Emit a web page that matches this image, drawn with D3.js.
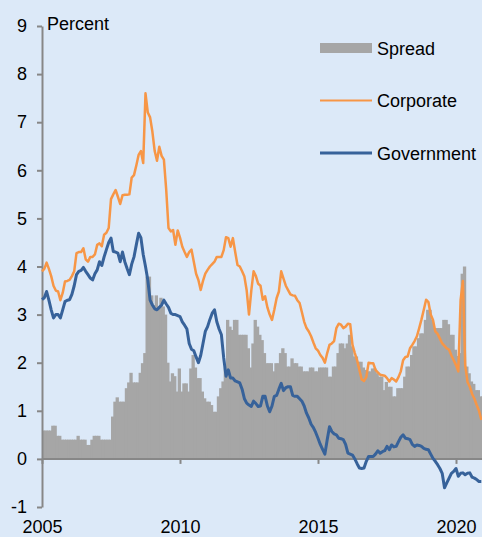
<!DOCTYPE html>
<html>
<head>
<meta charset="utf-8">
<script src="https://cdn.jsdelivr.net/npm/d3@7"></script>
<style>
  body { margin: 0; background: #dce9f8; }
  svg { display: block; font-family: "Liberation Sans", Arial, sans-serif; }
</style>
</head>
<body>
<div id="chart"></div>
<script>
"use strict";

// monthly values, Jan 2005 .. Dec 2020
var START_YEAR = 2005;

var corporate = [
  3.9, 3.95, 4.08, 3.95, 3.8, 3.6, 3.5, 3.48, 3.3, 3.45, 3.69, 3.7,
  3.72, 3.8, 3.9, 4.28, 4.3, 4.3, 4.38, 4.15, 4.1, 4.2, 4.2, 4.25,
  4.45, 4.48, 4.42, 4.66, 4.7, 4.8, 5.4, 5.5, 5.59, 5.45, 5.3, 5.48,
  5.49, 5.49, 5.5, 5.85, 5.9, 6.1, 6.32, 6.4, 6.15, 7.6, 7.2, 7.1,
  6.8, 6.4, 6.2, 6.49, 6.3, 6.22, 5.6, 4.8, 4.73, 4.76, 4.45, 4.75,
  4.6, 4.41, 4.3, 4.2, 4.3, 4.35, 4.1, 3.85, 3.72, 3.51, 3.7, 3.85,
  3.93, 4.0, 4.05, 4.1, 4.2, 4.2, 4.2, 4.34, 4.61, 4.59, 4.41, 4.59,
  4.3, 4.03, 4.0, 3.9, 3.79, 3.5, 3.0, 3.5, 3.9, 3.8, 3.64, 3.6,
  3.31, 3.38, 3.15, 3.0, 2.89, 3.1, 3.34, 3.48, 3.9, 3.75, 3.6, 3.51,
  3.42, 3.4, 3.39, 3.3, 3.24, 3.05, 2.85, 2.72, 2.65, 2.55, 2.42, 2.3,
  2.25, 2.16, 2.1, 2.0, 2.2, 2.37, 2.4, 2.45, 2.72, 2.81, 2.79, 2.72,
  2.75, 2.81, 2.8, 2.37, 2.2, 2.05, 1.85, 1.65, 1.62, 1.7, 2.0, 1.99,
  1.99, 1.85, 1.8, 1.75, 1.74, 1.73, 1.68, 1.61, 1.68, 1.65, 1.61, 1.7,
  1.82, 2.05, 2.12, 2.13, 2.3, 2.37, 2.45, 2.55, 2.72, 2.9, 3.1, 3.31,
  3.26, 3.0, 2.89, 2.65, 2.6, 2.5, 2.4, 2.35, 2.3, 2.27, 2.15, 2.05,
  1.95, 1.82, 3.3, 3.7, 1.95, 1.6, 1.5, 1.35, 1.25, 1.12, 1.0, 0.81
];

var government = [
  3.31, 3.35, 3.48, 3.3, 3.1, 2.93, 3.0, 3.0, 2.93, 3.1, 3.27, 3.3,
  3.31, 3.42, 3.6, 3.83, 3.9, 3.92, 3.98, 3.9, 3.83, 3.76, 3.72, 3.85,
  3.93, 4.1, 4.02, 4.2, 4.35, 4.5, 4.59, 4.31, 4.3, 4.28, 4.1, 4.3,
  4.1, 3.96, 3.83, 4.05, 4.2, 4.45, 4.69, 4.6, 4.25, 4.0, 3.72, 3.3,
  3.2, 3.12, 3.1, 3.15, 3.2, 3.3, 3.22, 3.15, 3.03, 3.0, 3.0, 2.98,
  2.96, 2.85, 2.78, 2.7, 2.4, 2.28, 2.25, 2.12, 2.0, 2.15, 2.4, 2.65,
  2.75, 2.9, 3.03, 3.1, 2.85, 2.7, 2.58, 2.1, 1.72, 1.85, 1.68, 1.68,
  1.62, 1.6, 1.58, 1.45, 1.25, 1.16, 1.12, 1.09, 1.2, 1.15, 1.09, 1.1,
  1.3, 1.3, 1.1, 0.98, 1.1, 1.3, 1.32, 1.45, 1.57, 1.42, 1.48, 1.5,
  1.5, 1.32, 1.3, 1.3, 1.25, 1.2, 1.1, 0.95, 0.85, 0.72, 0.65, 0.55,
  0.43, 0.3, 0.2, 0.1, 0.4, 0.67, 0.57, 0.52, 0.5, 0.43, 0.42, 0.4,
  0.3, 0.12, 0.1, 0.08, 0.0, -0.1, -0.19, -0.2, -0.19, -0.05, 0.05, 0.05,
  0.05, 0.1, 0.17, 0.12, 0.15, 0.17, 0.26, 0.19, 0.29, 0.25, 0.26, 0.36,
  0.45, 0.5, 0.43, 0.42, 0.4, 0.3, 0.26, 0.29, 0.28, 0.26, 0.22, 0.2,
  0.19, 0.1, 0.01, -0.05, -0.12, -0.2, -0.3, -0.6, -0.5, -0.4, -0.3, -0.26,
  -0.2, -0.36, -0.3, -0.29, -0.33, -0.3, -0.29, -0.38, -0.4, -0.43, -0.47, -0.47
];

var spread = [
  0.59, 0.59, 0.59, 0.59, 0.69, 0.69, 0.48, 0.48, 0.4, 0.4, 0.4, 0.4,
  0.4, 0.4, 0.4, 0.48, 0.4, 0.4, 0.4, 0.29, 0.29, 0.4, 0.48, 0.48,
  0.48, 0.4, 0.4, 0.4, 0.4, 0.4, 0.88, 1.19, 1.28, 1.19, 1.19, 1.19,
  1.47, 1.59, 1.79, 1.59, 1.59, 1.59, 1.79, 1.99, 2.2, 3.79, 3.79, 3.4,
  3.2, 3.4, 3.17, 3.35, 3.17, 3.0, 2.0, 1.61, 1.78, 1.72, 1.4, 1.88,
  1.4, 1.57, 1.57, 1.4, 1.88, 2.16, 1.9, 1.68, 1.68, 1.4, 1.26, 1.19,
  1.19, 1.12, 0.98, 0.98, 1.3, 1.47, 1.61, 1.9, 2.89, 2.75, 2.68, 2.89,
  2.89, 2.58, 2.58, 2.58, 2.58, 2.3, 1.9, 2.4, 2.89, 2.75, 2.58, 2.47,
  2.2, 1.99, 1.99, 1.99, 1.82, 1.99, 1.99, 2.2, 2.3, 2.2, 1.92, 1.92,
  2.09, 1.99, 1.99, 1.92, 1.92, 1.82, 1.82, 1.82, 1.9, 1.9, 1.82, 1.82,
  1.9, 1.9, 1.9, 1.9, 1.71, 1.71, 1.92, 1.92, 2.2, 2.4, 2.4, 2.3,
  2.4, 2.58, 2.34, 2.13, 2.13, 2.02, 2.02, 1.9, 1.85, 1.82, 1.82, 1.88,
  1.88, 1.78, 1.71, 1.71, 1.43, 1.6, 1.5, 1.5, 1.3, 1.3, 1.47, 1.47,
  1.47, 1.71, 1.92, 1.92, 2.16, 2.34, 2.34, 2.51, 2.61, 2.61, 2.89, 3.1,
  3.1, 2.89, 2.72, 2.72, 2.72, 2.72, 2.89, 2.89, 2.8, 2.58, 2.58, 2.27,
  2.14, 2.2, 3.85, 4.0, 1.92, 1.78, 1.61, 1.56, 1.43, 1.43, 1.3, 1.3
];

var yTicks = [-1, 0, 1, 2, 3, 4, 5, 6, 7, 8, 9];
var xTicks = [2005, 2010, 2015, 2020];
var legendItems = ["Spread", "Corporate", "Government"];

var COLORS = { Spread: "#a6a6a6", Corporate: "#f79646", Government: "#37629a" };
var AXIS_COLOR = "#878787";

var width = 482, height = 537;

var svg = d3.select("#chart").append("svg")
    .attr("width", width)
    .attr("height", height);

svg.append("rect")
    .attr("width", width).attr("height", height)
    .attr("fill", "#dce9f8");

var x = d3.scaleLinear().domain([2005, 2021]).range([42, 483.6]);
var y = d3.scaleLinear().domain([-1, 9]).range([507, 26]);

function t(i) { return START_YEAR + i / 12; }

// spread bars (overlap a little so no seams show)
svg.append("g").selectAll("rect")
    .data(spread)
    .enter()
    .append("rect")
    .attr("x", function(d, i) { return x(t(i)); })
    .attr("width", function(d, i) { return x(t(i + 1)) - x(t(i)) + 1; })
    .attr("y", function(d) { return Math.min(y(d), y(0)); })
    .attr("height", function(d) { return Math.abs(y(d) - y(0)); })
    .attr("fill", COLORS.Spread);

// x axis on the zero line, labels sit at the bottom
var xAxis = svg.append("g")
    .attr("transform", "translate(0," + y(0) + ")")
    .call(d3.axisBottom(x).tickValues(xTicks).tickSize(5).tickSizeOuter(0)
        .tickFormat(function(d) { return String(d); }).tickPadding(56));
xAxis.select(".domain").attr("stroke", AXIS_COLOR).attr("stroke-width", 2)
    .attr("d", "M" + x(2005) + ",0H" + width);
xAxis.selectAll(".tick line").attr("stroke", AXIS_COLOR).attr("stroke-width", 2);
xAxis.selectAll(".tick text").attr("fill", "#000").style("font-size", "18px")
    .style("font-family", "Liberation Sans, Arial, sans-serif");

var yAxis = svg.append("g")
    .attr("transform", "translate(" + x(2005) + ",0)")
    .call(d3.axisLeft(y).tickValues(yTicks).tickSize(5).tickSizeOuter(0).tickPadding(10)
        .tickFormat(function(d) { return String(d); }));
yAxis.select(".domain").attr("stroke", AXIS_COLOR).attr("stroke-width", 2);
yAxis.selectAll(".tick line").attr("stroke", AXIS_COLOR).attr("stroke-width", 2);
yAxis.selectAll(".tick text").attr("fill", "#000").style("font-size", "18px")
    .style("font-family", "Liberation Sans, Arial, sans-serif");

svg.append("text")
    .attr("x", 47).attr("y", 30)
    .style("font-size", "18px")
    .text("Percent");

var line = d3.line()
    .x(function(d, i) { return x(t(i)); })
    .y(function(d) { return y(d); });

svg.append("path")
    .datum(corporate)
    .attr("d", line)
    .attr("fill", "none")
    .attr("stroke", COLORS.Corporate)
    .attr("stroke-width", 2.5)
    .attr("stroke-linejoin", "round");

svg.append("path")
    .datum(government)
    .attr("d", line)
    .attr("fill", "none")
    .attr("stroke", COLORS.Government)
    .attr("stroke-width", 3)
    .attr("stroke-linejoin", "round");

// legend
var legend = svg.append("g").selectAll("g")
    .data(legendItems)
    .enter()
    .append("g")
    .attr("transform", function(d, i) { return "translate(320," + (48 + i * 52.5) + ")"; });

legend.each(function(d) {
  var g = d3.select(this);
  if (d === "Spread") {
    g.append("rect").attr("x", 0).attr("y", -5).attr("width", 52).attr("height", 10)
        .attr("fill", COLORS.Spread);
  } else {
    g.append("line").attr("x1", 0).attr("x2", 52).attr("y1", 0).attr("y2", 0)
        .attr("stroke", COLORS[d]).attr("stroke-width", d === "Corporate" ? 2 : 3);
  }
  g.append("text").attr("x", 57).attr("y", 6.5)
      .style("font-size", "18px")
      .text(d);
});
</script>
</body>
</html>
